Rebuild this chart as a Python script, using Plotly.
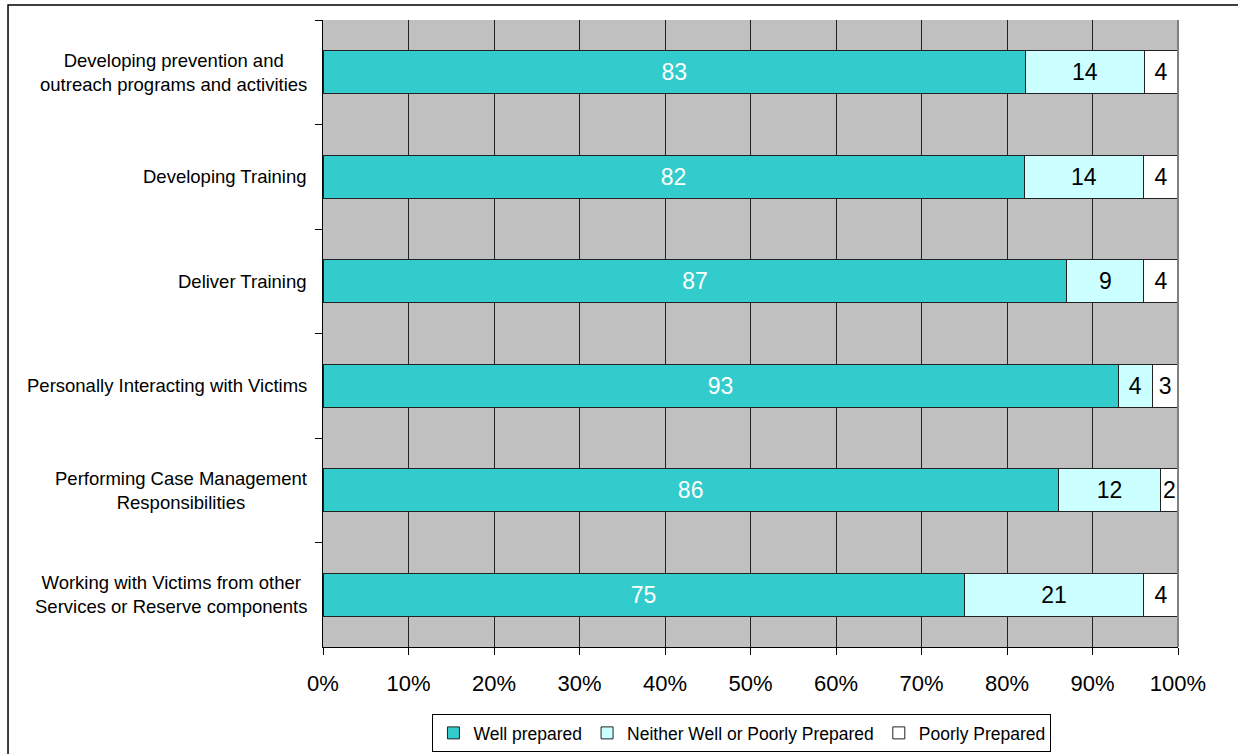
import plotly.graph_objects as go

categories = [
    "Developing prevention and<br>outreach programs and activities",
    "Developing Training",
    "Deliver Training",
    "Personally Interacting with Victims",
    "Performing Case Management<br>Responsibilities",
    "Working with Victims from other<br>Services or Reserve components",
]
well_prepared = [83, 82, 87, 93, 86, 75]
neither = [14, 14, 9, 4, 12, 21]
poorly = [4, 4, 4, 3, 2, 4]
tick_vals = [0, 10, 20, 30, 40, 50, 60, 70, 80, 90, 100]
tick_text = [f"{v}%" for v in tick_vals]

FONT = "Arial, Liberation Sans, sans-serif"

fig = go.Figure()
series = [
    ("Well prepared", well_prepared, "#33CCCC", "white"),
    ("Neither Well or Poorly Prepared", neither, "#CCFFFF", "black"),
    ("Poorly Prepared", poorly, "#FFFFFF", "black"),
]
for name, vals, color, tcolor in series:
    fig.add_trace(go.Bar(
        y=categories, x=vals, name=name, orientation="h",
        marker=dict(color=color, line=dict(color="#222222", width=1)),
        text=[str(v) for v in vals], textposition="inside",
        insidetextanchor="middle", constraintext="none",
        textfont=dict(family=FONT, size=23, color=tcolor),
        hoverinfo="skip",
    ))

for c in categories:
    fig.add_annotation(
        x=0, xref="paper", y=c, yref="y", text=c, showarrow=False,
        xanchor="right", yanchor="middle", align="center", xshift=-14,
        font=dict(family=FONT, size=18.5, color="black"),
    )

# outer border
fig.add_shape(type="rect", xref="paper", yref="paper",
              x0=-0.3684, x1=1.3, y0=-0.4, y1=1.0239,
              line=dict(color="black", width=1.5), layer="below")

fig.update_layout(
    width=1238, height=754,
    barmode="stack", barnorm="percent", bargap=0.59,
    plot_bgcolor="#C0C0C0", paper_bgcolor="white",
    margin=dict(l=323, r=60, t=20, b=107, autoexpand=False),
    font=dict(family=FONT, color="black"),
    showlegend=True,
    legend=dict(orientation="h", x=0.49, xanchor="center",
                yref="container", y=1 - 714 / 754, yanchor="top",
                bordercolor="black", borderwidth=1,
                font=dict(family=FONT, size=17.5, color="black"),
                traceorder="normal"),
    xaxis=dict(range=[0, 100], tickmode="array", tickvals=tick_vals, ticktext=tick_text,
               showgrid=True, gridcolor="#222222", gridwidth=1,
               showline=True, linecolor="black", linewidth=1,
               ticks="outside", ticklen=7, tickcolor="black",
               ticklabelstandoff=10,
               tickfont=dict(family=FONT, size=22, color="black"),
               zeroline=False, layer="below traces"),
    yaxis=dict(type="category", autorange="reversed", tickson="boundaries",
               ticks="outside", ticklen=7, tickcolor="black",
               showline=True, linecolor="black", linewidth=1,
               showgrid=False, showticklabels=False, zeroline=False),
)

fig.add_shape(type="line", xref="paper", yref="paper", x0=1, x1=1, y0=0, y1=1,
              line=dict(color="#808080", width=2))

fig.write_html("out.html", config={"displayModeBar": False},
               post_script="document.body.style.margin='0';")
